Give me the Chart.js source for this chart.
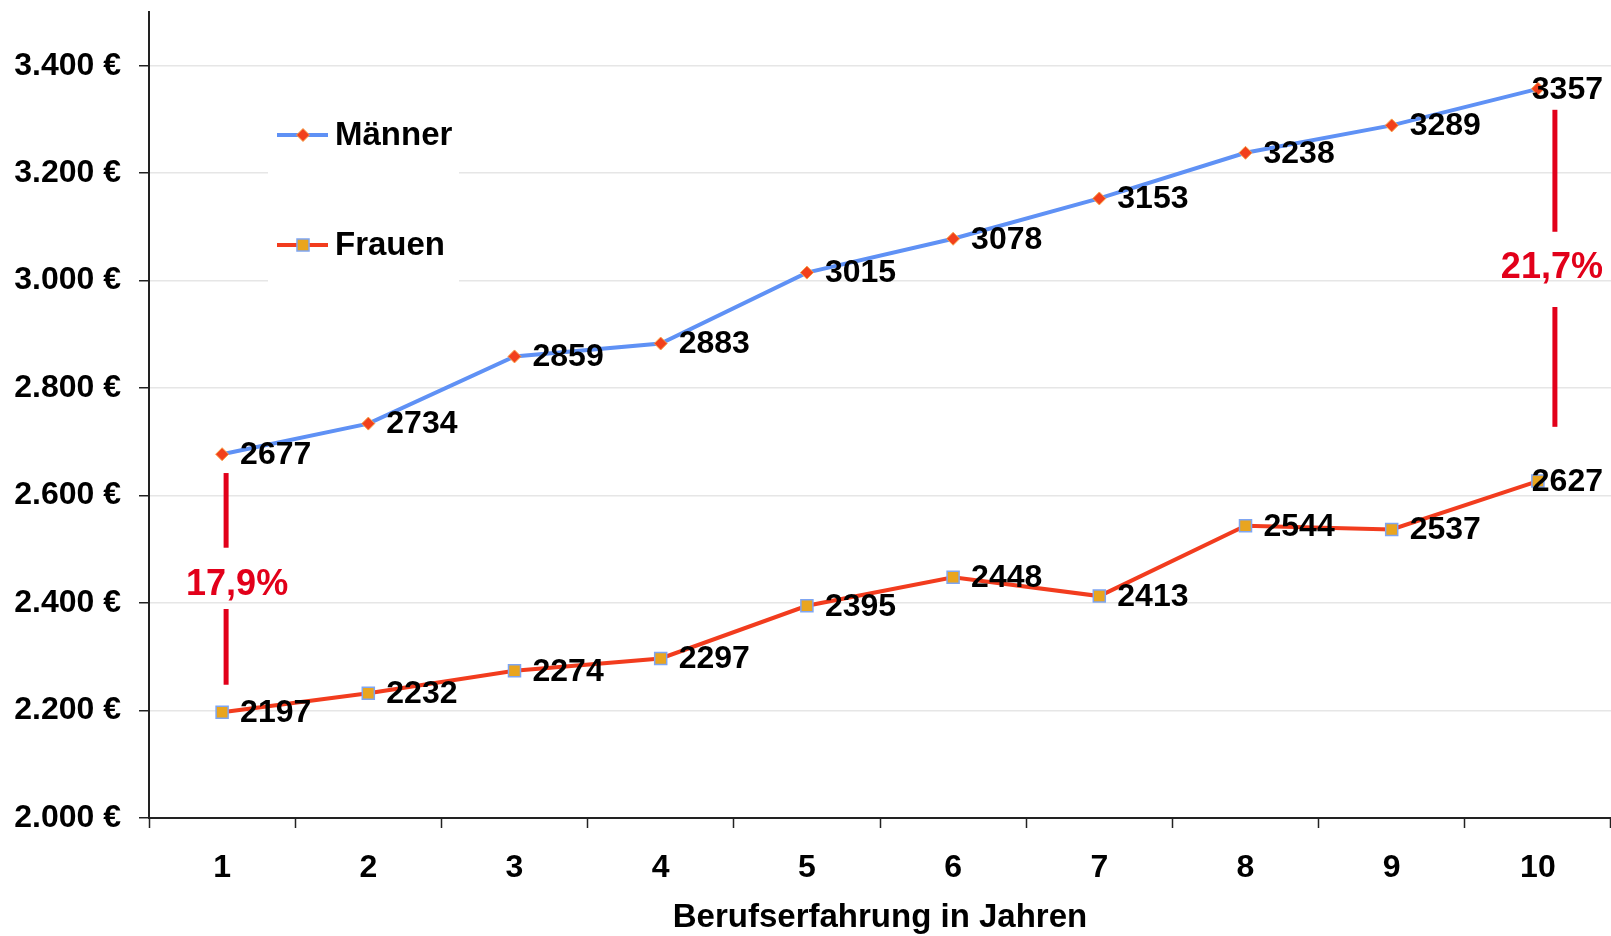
<!DOCTYPE html>
<html lang="de">
<head>
<meta charset="utf-8">
<title>Gehalt nach Berufserfahrung</title>
<script src="https://cdn.jsdelivr.net/npm/chart.js@4.4.1/dist/chart.umd.min.js"></script>
<style>
    html, body { margin: 0; padding: 0; background: #fff; overflow: hidden; }
    #gehaltChart { display: block; }
</style>
</head>
<body>
<canvas id="gehaltChart" width="1611" height="936"></canvas>
<script>
/* Daten */
const jahre = ['1', '2', '3', '4', '5', '6', '7', '8', '9', '10'];
const maenner = [2677, 2734, 2859, 2883, 3015, 3078, 3153, 3238, 3289, 3357];
const frauen = [2197, 2232, 2274, 2297, 2395, 2448, 2413, 2544, 2537, 2627];
const yTickValues = [2000, 2200, 2400, 2600, 2800, 3000, 3200, 3400];

// Abstand Männer/Frauen (Markierungen in Euro-Werten)
const gapIndex = [0, 9];
const gapText = ['17,9%', '21,7%'];
const gapUpper = [[2642, 2503], [3318, 3091]];
const gapLower = [[2389, 2248], [2951, 2728]];
const gapTextAt = [2433, 3024];

const FONT = '"Liberation Sans", Arial, sans-serif';

function euro(v) {
    return String(v).replace(/\B(?=(\d{3})+(?!\d))/g, '.') + ' €';
}

/* ============================= */
/* Plugins                       */
/* ============================= */

const boxLegend = {
    id: 'boxLegend',
    beforeDatasetsDraw(chart) {
        const { ctx, chartArea } = chart;
        ctx.save();
        ctx.fillStyle = '#fff';
        ctx.fillRect(chartArea.left + 119, chartArea.top + 80, 191, 210);

        chart.data.datasets.forEach((ds, i) => {
            const y = chartArea.top + 123 + i * 110;
            const lx = chartArea.left + 128;

            ctx.strokeStyle = ds.borderColor;
            ctx.lineWidth = 4;
            ctx.beginPath();
            ctx.moveTo(lx, y);
            ctx.lineTo(lx + 51, y);
            ctx.stroke();

            ctx.fillStyle = ds.pointBackgroundColor;
            ctx.strokeStyle = ds.pointBorderColor;
            ctx.lineWidth = ds.pointBorderWidth;
            Chart.helpers.drawPoint(ctx, {
                pointStyle: ds.pointStyle,
                radius: ds.pointRadius,
                borderWidth: ds.pointBorderWidth,
                rotation: 0
            }, lx + 26, y);

            ctx.fillStyle = '#000';
            ctx.font = 'bold 33px ' + FONT;
            ctx.textAlign = 'left';
            ctx.textBaseline = 'middle';
            ctx.fillText(ds.label, lx + 58, y + 1);
        });
        ctx.restore();
    }
};

const valueLabels = {
    id: 'valueLabels',
    afterDatasetsDraw(chart) {
        const ctx = chart.ctx;
        const right = chart.chartArea.right - 8;
        ctx.save();
        ctx.font = 'bold 32px ' + FONT;
        ctx.fillStyle = '#000';
        ctx.textAlign = 'left';
        ctx.textBaseline = 'middle';
        chart.data.datasets.forEach((ds, i) => {
            chart.getDatasetMeta(i).data.forEach((pt, k) => {
                const txt = String(ds.data[k]);
                const w = ctx.measureText(txt).width;
                let x = pt.x + 18;
                if (x + w > right) x = right - w;
                ctx.fillText(txt, x, pt.y + 1);
            });
        });
        ctx.restore();
    }
};

const gapMarks = {
    id: 'gapMarks',
    afterDatasetsDraw(chart) {
        const ctx = chart.ctx;
        const xs = chart.scales.x, ys = chart.scales.y;
        const lineShift = [4, 17];
        const textShift = [15, 14];
        ctx.save();
        ctx.strokeStyle = '#e2001a';
        ctx.fillStyle = '#e2001a';
        ctx.lineWidth = 5;
        ctx.font = 'bold 36px ' + FONT;
        ctx.textAlign = 'center';
        ctx.textBaseline = 'middle';

        gapIndex.forEach((idx, n) => {
            const px = xs.getPixelForValue(idx);
            const lx = px + lineShift[n];
            [gapUpper[n], gapLower[n]].forEach(seg => {
                ctx.beginPath();
                ctx.moveTo(lx, ys.getPixelForValue(seg[0]));
                ctx.lineTo(lx, ys.getPixelForValue(seg[1]));
                ctx.stroke();
            });
            ctx.fillText(gapText[n], px + textShift[n], ys.getPixelForValue(gapTextAt[n]));
        });
        ctx.restore();
    }
};

/* ============================= */
/* Chart                         */
/* ============================= */

const ctx = document.getElementById('gehaltChart').getContext('2d');

new Chart(ctx, {
    type: 'line',
    data: {
        labels: jahre,
        datasets: [{
            label: 'Männer',
            data: maenner,
            borderColor: '#5f91f5',
            backgroundColor: '#5f91f5',
            borderWidth: 4,
            tension: 0,
            pointStyle: 'rectRot',
            pointRadius: 6.5,
            pointBackgroundColor: '#f2401c',
            pointBorderColor: '#f7a24a',
            pointBorderWidth: 1
        }, {
            label: 'Frauen',
            data: frauen,
            borderColor: '#f23c1e',
            backgroundColor: '#f23c1e',
            borderWidth: 4,
            tension: 0,
            pointStyle: 'rect',
            pointRadius: 8.5,
            pointBackgroundColor: '#e9a51f',
            pointBorderColor: '#7ea5f2',
            pointBorderWidth: 1.5
        }]
    },
    options: {
        responsive: false,
        animation: false,
        devicePixelRatio: 1,
        layout: {
            autoPadding: false,
            padding: { top: 12, right: 0, bottom: 0, left: 0 }
        },
        plugins: {
            legend: { display: false },
            tooltip: { enabled: false }
        },
        scales: {
            x: {
                type: 'category',
                offset: true,
                grid: {
                    offset: true,
                    drawOnChartArea: false,
                    drawTicks: true,
                    tickLength: 10,
                    tickColor: '#222',
                    tickWidth: 1.5
                },
                border: { display: true, color: '#222', width: 2 },
                ticks: {
                    color: '#000',
                    padding: 21,
                    font: { family: FONT, size: 32, weight: 'bold' }
                },
                title: {
                    display: true,
                    text: 'Berufserfahrung in Jahren',
                    color: '#000',
                    padding: { top: 0, bottom: 0 },
                    font: { family: FONT, size: 33, weight: 'bold', lineHeight: 1.1 }
                },
                afterFit: s => {
                    s.height = 118;
                    s.paddingLeft = 0;
                    s.paddingRight = 0;
                }
            },
            y: {
                min: 2000,
                max: 3500,
                afterBuildTicks: s => {
                    s.ticks = yTickValues.map(v => ({ value: v }));
                },
                grid: {
                    color: '#e6e6e6',
                    lineWidth: 1.5,
                    tickLength: 10,
                    tickColor: '#222',
                    tickWidth: 1.5
                },
                border: { display: true, color: '#222', width: 2 },
                ticks: {
                    color: '#000',
                    padding: 18,
                    font: { family: FONT, size: 32, weight: 'bold' },
                    callback: v => euro(v)
                },
                afterFit: s => {
                    s.width = 149;
                    s.paddingTop = 0;
                    s.paddingBottom = 0;
                    s.paddingLeft = 0;
                    s.paddingRight = 0;
                }
            }
        }
    },
    plugins: [boxLegend, valueLabels, gapMarks]
});
</script>
</body>
</html>
